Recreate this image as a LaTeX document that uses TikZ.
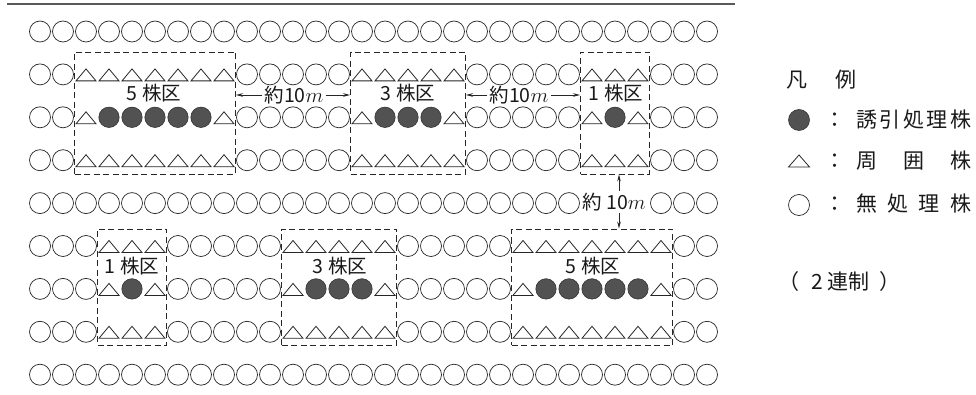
\documentclass[tikz,border=0pt]{standalone}
\usepackage{fontspec}
\newfontfamily\cjk{Noto Sans CJK JP}
\usetikzlibrary{arrows.meta}
\newcommand\plantmark[3]{%
  \if#1o\draw[plain] (#2,#3) circle[radius=10.5pt];\fi
  \if#1t\draw[surr] ({#2-10},{#3+6.5}) -- (#2,{#3-5.5}) -- ({#2+10},{#3+6.5}) -- cycle;\fi
  \if#1f\draw[ind] (#2,#3) circle[radius=10.2pt];\fi
}
\newcommand\plantrow[2]{%
  \foreach \k [count=\c] in {#2} {\pgfmathsetmacro\xx{40+23*(\c-1)}\plantmark{\k}{\xx}{#1}}%
}
\begin{document}
\begin{tikzpicture}[x=1pt,y=-1pt,
  plain/.style={draw=black!85,line width=0.7pt},
  surr/.style={draw=black!85,line width=0.8pt,line join=miter},
  ind/.style={draw=black!80,fill=black!68,line width=0.6pt},
  plotbox/.style={draw=black!85,line width=0.85pt,dash pattern=on 6pt off 3.5pt,inner sep=0pt,rectangle},
  boxlabel/.style={font=\cjk\fontsize{19.5}{20}\selectfont,text=black!90,inner sep=0pt},
  dimlabel/.style={font=\cjk\fontsize{19.5}{20}\selectfont,text=black!90,inner sep=2pt},
  dimarrow/.style={draw=black!85,line width=0.8pt,-{Stealth[length=7pt,width=3.6pt]}},
  legtext/.style={font=\cjk\fontsize{21}{22}\selectfont,text=black!90,inner sep=0pt},
  rulestyle/.style={draw=black!65,line width=1.3pt}
]
\useasboundingbox (0,0) rectangle (976,395);
% top rule
\draw[rulestyle] (7,4) -- (735,4);
% plants
\plantrow{31.5}{o,o,o,o,o,o,o,o,o,o,o,o,o,o,o,o,o,o,o,o,o,o,o,o,o,o,o,o,o,o}
\plantrow{74.4}{o,o,t,t,t,t,t,t,t,o,o,o,o,o,t,t,t,t,t,o,o,o,o,o,t,t,t,o,o,o}
\plantrow{117.3}{o,o,t,f,f,f,f,f,t,o,o,o,o,o,t,f,f,f,t,o,o,o,o,o,t,f,t,o,o,o}
\plantrow{160.2}{o,o,t,t,t,t,t,t,t,o,o,o,o,o,t,t,t,t,t,o,o,o,o,o,t,t,t,o,o,o}
\plantrow{203.1}{o,o,o,o,o,o,o,o,o,o,o,o,o,o,o,o,o,o,o,o,o,o,o,o,n,n,n,o,o,o}
\plantrow{246}{o,o,o,t,t,t,o,o,o,o,o,t,t,t,t,t,o,o,o,o,o,t,t,t,t,t,t,t,o,o}
\plantrow{288.9}{o,o,o,t,f,t,o,o,o,o,o,t,f,f,f,t,o,o,o,o,o,t,f,f,f,f,f,t,o,o}
\plantrow{331.8}{o,o,o,t,t,t,o,o,o,o,o,t,t,t,t,t,o,o,o,o,o,t,t,t,t,t,t,t,o,o}
\plantrow{374.7}{o,o,o,o,o,o,o,o,o,o,o,o,o,o,o,o,o,o,o,o,o,o,o,o,o,o,o,o,o,o}
% plot boxes
\node[plotbox,minimum width=161pt,minimum height=122pt] (b5t) at (155,113) {};
\node[plotbox,minimum width=115pt,minimum height=122pt] (b3t) at (408,113) {};
\node[plotbox,minimum width=69pt,minimum height=122pt] (b1t) at (615,113) {};
\node[plotbox,minimum width=69pt,minimum height=116pt] (b1b) at (132,287) {};
\node[plotbox,minimum width=115pt,minimum height=116pt] (b3b) at (339,287) {};
\node[plotbox,minimum width=161pt,minimum height=116pt] (b5b) at (592,287) {};
% plot labels
\node[boxlabel] (t5t) at (154,93) {5 株区};
\node[boxlabel] (t3t) at (408,93) {3 株区};
\node[boxlabel] (t1t) at (616,93) {1 株区};
\node[boxlabel] (t1b) at (132,266) {1 株区};
\node[boxlabel] (t3b) at (340,266) {3 株区};
\node[boxlabel] (t5b) at (593,266) {5 株区};
% distances
\node[dimlabel] (d1) at (294,95) {約10$m$};
\node[dimlabel] (d2) at (519,95) {約10$m$};
\node[dimlabel] (d3) at (614,202) {約 10$m$};
\draw[dimarrow] (d1.west) -- (b5t.east |- d1.west);
\draw[dimarrow] (d1.east) -- (b3t.west |- d1.east);
\draw[dimarrow] (d2.west) -- (b3t.east |- d2.west);
\draw[dimarrow] (d2.east) -- (b1t.west |- d2.east);
\coordinate (vx) at (619,202);
\draw[dimarrow] (vx |- d3.north) -- (vx |- b1t.south);
\draw[dimarrow] (vx |- d3.south) -- (vx |- b5b.north);
% legend
\node[legtext,anchor=west] (lg0) at (786,80) {凡\hspace{28pt}例};
\draw[ind] (799,120) circle[radius=10.5pt];
\draw[surr] (788.5,167) -- (799,155) -- (809.5,167) -- cycle;
\draw[plain] (799,205) circle[radius=10.5pt];
\node[legtext] (c1) at (835,120) {：};
\node[legtext] (c2) at (835,161) {：};
\node[legtext] (c3) at (835,204) {：};
\node[legtext,anchor=west] (l1) at (856,120) {\makebox[115pt]{誘\hfill 引\hfill 処\hfill 理\hfill 株}};
\node[legtext,anchor=west] (l2) at (856,161) {\makebox[115pt]{周\hfill 囲\hfill 株}};
\node[legtext,anchor=west] (l3) at (856,204) {\makebox[115pt]{無\hfill 処\hfill 理\hfill 株}};
\node[legtext,anchor=west] (l4) at (778,282) {（\hspace{12pt}2\hspace{5pt}連制\hspace{10pt}）};
\end{tikzpicture}
\end{document}
